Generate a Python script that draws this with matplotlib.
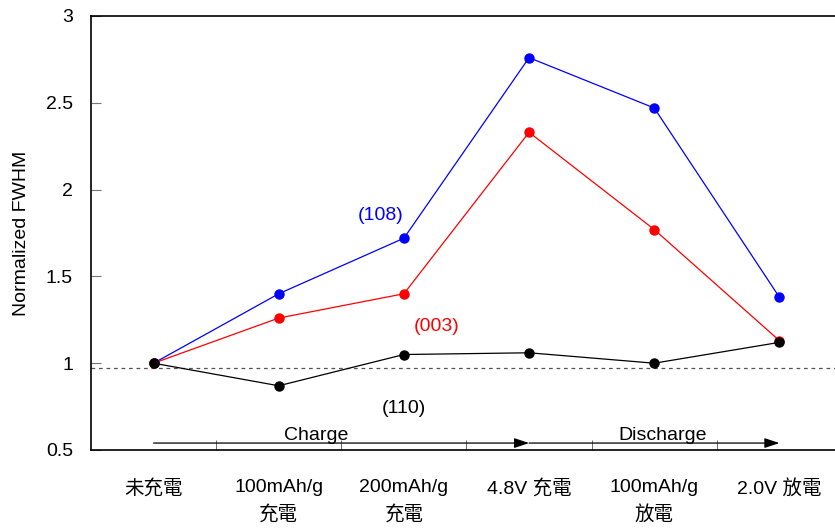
import numpy as np
import matplotlib.pyplot as plt

plt.rcParams['font.family'] = ['Liberation Sans', 'Noto Sans CJK TC', 'DejaVu Sans']

# データ
categories = ['未充電', '100mAh/g\n充電', '200mAh/g\n充電', '4.8V 充電', '100mAh/g\n放電', '2.0V 放電']
fwhm_108 = [1.00, 1.40, 1.72, 2.76, 2.47, 1.38]
fwhm_003 = [1.00, 1.26, 1.40, 2.33, 1.77, 1.13]
fwhm_110 = [1.00, 0.87, 1.05, 1.06, 1.00, 1.12]
ref_level = 0.97
yticks = [0.5, 1, 1.5, 2, 2.5, 3]
ytick_labels = ['0.5', '1', '1.5', '2', '2.5', '3']

x = np.arange(len(categories))
fs = 14

fig = plt.figure(figsize=(8.35, 5.28), dpi=100)
ax = fig.add_axes([91 / 835, 1 - 450 / 528, 751 / 835, 434 / 528])

ax.axhline(ref_level, color='#555555', linestyle=(0, (3, 3)), linewidth=0.9, zorder=1)

for vals, color in [(fwhm_108, '#0000FF'), (fwhm_003, '#FF0000'), (fwhm_110, 'black')]:
    ax.plot(x, vals, color=color, linewidth=0.9, marker='o', markersize=6.5,
            markerfacecolor=color, markeredgecolor=color, zorder=3)

# 系列ラベル
ax.text(1.81, 1.85, '(108)', color='#0000FF', fontsize=fs, ha='center', va='center')
ax.text(2.26, 1.21, '(003)', color='#FF0000', fontsize=fs, ha='center', va='center')
ax.text(2.0, 0.74, '(110)', color='black', fontsize=fs, ha='center', va='center')

# Charge / Discharge 矢印
arrow = dict(arrowstyle='-|>,head_length=0.9,head_width=0.3', color='black',
             linewidth=0.9, shrinkA=0, shrinkB=0)
ax.annotate('', xy=(3, 0.54), xytext=(0, 0.54), arrowprops=arrow)
ax.annotate('', xy=(5, 0.54), xytext=(3, 0.54), arrowprops=arrow)
ax.text(1.30, 0.556, 'Charge', fontsize=fs, ha='center', va='baseline')
ax.text(4.07, 0.556, 'Discharge', fontsize=fs, ha='center', va='baseline')

ax.set_xlim(-0.5, 5.5)
ax.set_ylim(0.5, 3)
ax.set_yticks(yticks)
ax.set_yticklabels(ytick_labels, fontsize=fs)
ax.set_xticks(x)
ax.set_xticklabels(categories, fontsize=fs, linespacing=1.6)
ax.set_xticks(np.arange(0.5, 5, 1), minor=True)
ax.tick_params(axis='x', which='major', length=0, pad=21)
ax.tick_params(axis='x', which='minor', direction='in', length=7, color='#555555')
ax.tick_params(axis='y', direction='in', length=7, color='#777777', pad=13)
ax.set_ylabel('Normalized FWHM', fontsize=fs)
ax.yaxis.set_label_coords((-91 + 30) / 751, 0.5)

for s in ax.spines.values():
    s.set_linewidth(1.2)

plt.savefig('out.png', dpi=100)
